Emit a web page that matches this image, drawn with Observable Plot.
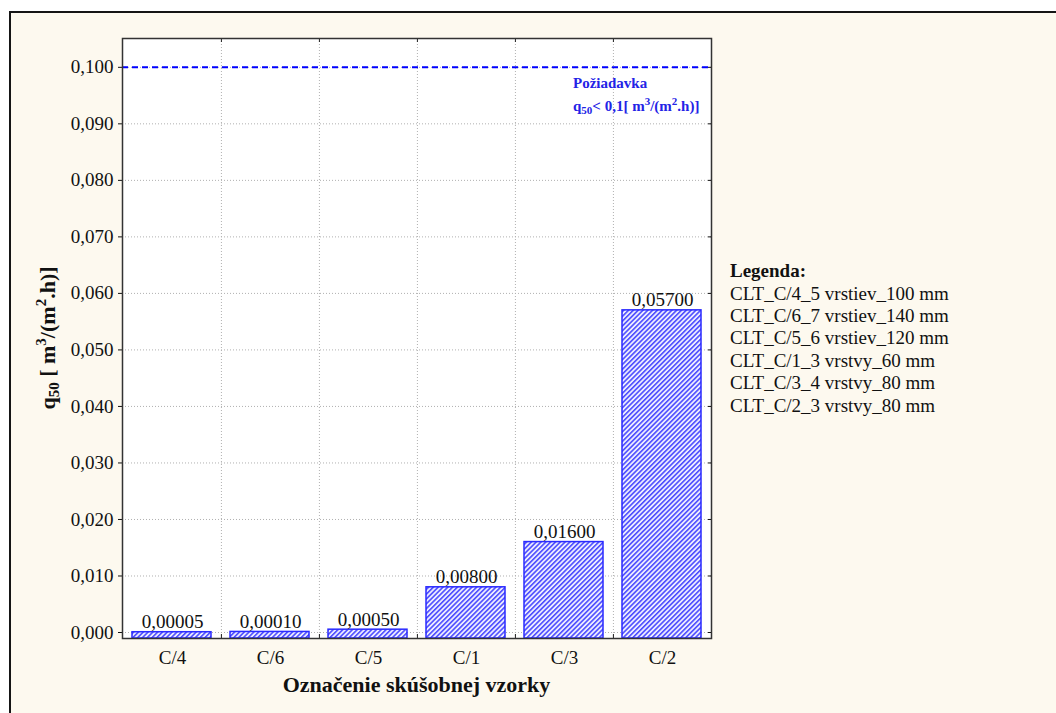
<!DOCTYPE html>
<html><head><meta charset="utf-8">
<script src="https://cdn.jsdelivr.net/npm/d3@7"></script>
<script src="https://cdn.jsdelivr.net/npm/@observablehq/plot@0.6"></script>
<style>
body{margin:0;background:#fff;overflow:hidden;font-family:"Liberation Serif",serif}
#frame{position:absolute;left:9px;top:11px;width:1100px;height:800px;border:2.5px solid #151515;background:#fdf9ef}
#chart{position:absolute;left:0;top:0}
</style></head><body><div id="frame"></div><div id="chart"></div>
<script>
const categories = ["C/4","C/6","C/5","C/1","C/3","C/2"];
const values = [0.00005,0.0001,0.0005,0.008,0.016,0.057];
const yTicks = [0,0.01,0.02,0.03,0.04,0.05,0.06,0.07,0.08,0.09,0.1];
const requirement = 0.1;
const legendTitle = "Legenda:";
const legendLabels = ["CLT_C/4_5 vrstiev_100 mm","CLT_C/6_7 vrstiev_140 mm","CLT_C/5_6 vrstiev_120 mm","CLT_C/1_3 vrstvy_60 mm","CLT_C/3_4 vrstvy_80 mm","CLT_C/2_3 vrstvy_80 mm"];
const xLabel = "Označenie skúšobnej vzorky";
const annTitle = "Požiadavka";

const data = categories.map((c,i)=>({cat:c, value:values[i]}));
const yMin = -0.00106, yMax = 0.1051;
const W=1056,H=713, ml=122, mt=38, mr=345, mb=75;
const bw = (W-ml-mr)/categories.length;
const pxY = (yMax-yMin)/(H-mt-mb);
const comma = f => v => f(v).replace(".", ",");
const fmt3 = comma(d3.format(".3f"));
const fmt5 = comma(d3.format(".5f"));
const grid = {stroke:"#b0b0b0", strokeOpacity:1, strokeDasharray:"1,2"};

const plot = Plot.plot({
  width:W, height:H, marginLeft:ml, marginTop:mt, marginRight:mr, marginBottom:mb,
  style:{background:"transparent", fontFamily:"Liberation Serif", fontSize:"19px", color:"#111"},
  x:{type:"band", domain:categories, padding:0, label:null},
  y:{domain:[yMin,yMax], label:null},
  marks:[
    Plot.frame({fill:"white", stroke:null}),
    Plot.gridY(yTicks, grid),
    Plot.ruleX(categories.slice(1), {dx:-bw/2, ...grid}),
    Plot.ruleY([requirement], {stroke:"#0000ff", strokeWidth:2, strokeDasharray:"6,4"}),
    Plot.barY(data, {x:"cat", y1:yMin, y2:"value", fill:"url(#hatch)", stroke:"#2a2aff", strokeWidth:1.5, insetLeft:9, insetRight:10}),
    Plot.text(data, {x:"cat", y:"value", text:d=>fmt5(d.value), lineAnchor:"bottom", dy:-4, fontSize:19, fill:"#111"}),
    Plot.ruleX(categories.slice(1), {dx:-bw/2, y1:yMax, y2:yMax-4*pxY, stroke:"#222"}),
    Plot.ruleX(categories.slice(1), {dx:-bw/2, y1:yMin, y2:yMin+4*pxY, stroke:"#222"}),
    Plot.axisY(yTicks, {anchor:"left", tickFormat:fmt3, tickSize:4, tickPadding:5, fontSize:19, label:null}),
    Plot.axisY(yTicks, {anchor:"right", tickFormat:()=>"", tickSize:-4, label:null}),
    Plot.axisX({tickSize:0, tickPadding:12, fontSize:19, label:null}),
    Plot.frame({stroke:"#333", strokeWidth:1.5})
  ]
});
document.getElementById("chart").appendChild(plot);

const svg = d3.select(plot);
const defs = svg.insert("defs", ":first-child");
const pat = defs.append("pattern").attr("id","hatch").attr("patternUnits","userSpaceOnUse")
  .attr("width",3.4).attr("height",3.4).attr("patternTransform","rotate(45)");
pat.append("rect").attr("width",3.4).attr("height",3.4).attr("fill","#ececff");
pat.append("line").attr("x1",0.8).attr("y1",0).attr("x2",0.8).attr("y2",3.4).attr("stroke","#3535ff").attr("stroke-width",1.4);

const ys = plot.scale("y"), xr = plot.scale("x").range;
const yReq = ys.apply(requirement);
// annotation
const ann = svg.append("g").attr("fill","#2323e6").attr("font-weight","bold").attr("font-size",15)
  .attr("font-family","Liberation Serif").attr("text-anchor","start");
ann.append("text").attr("x",xr[1]-138).attr("y",yReq+21).text(annTitle);
const a2 = ann.append("text").attr("x",xr[1]-138).attr("y",yReq+44);
a2.append("tspan").text("q");
a2.append("tspan").attr("font-size",11).attr("dy",3).text("50");
a2.append("tspan").attr("dy",-3).text("< 0,1[ m");
a2.append("tspan").attr("font-size",11).attr("dy",-6).text("3");
a2.append("tspan").attr("dy",6).text("/(m");
a2.append("tspan").attr("font-size",11).attr("dy",-6).text("2");
a2.append("tspan").attr("dy",6).text(".h)]");

// y label
const yl = svg.append("text").attr("transform",`translate(55,${(mt+H-mb)/2}) rotate(-90)`)
  .attr("text-anchor","middle").attr("font-weight","bold").attr("font-size",22).attr("font-family","Liberation Serif").attr("fill","#111");
yl.append("tspan").text("q");
yl.append("tspan").attr("font-size",15).attr("dy",4).text("50");
yl.append("tspan").attr("dy",-4).text(" [ m");
yl.append("tspan").attr("font-size",15).attr("dy",-9).text("3");
yl.append("tspan").attr("dy",9).text("/(m");
yl.append("tspan").attr("font-size",15).attr("dy",-9).text("2");
yl.append("tspan").attr("dy",9).text(".h)]");

// x label
svg.append("text").attr("x",(xr[0]+xr[1])/2).attr("y",692).attr("text-anchor","middle")
  .attr("font-weight","bold").attr("font-size",22).attr("font-family","Liberation Serif").attr("fill","#111").text(xLabel);

// legend
const lg = svg.append("g").attr("font-family","Liberation Serif").attr("font-size",19).attr("fill","#111").attr("text-anchor","start");
lg.append("text").attr("x",xr[1]+19).attr("y",277).attr("font-weight","bold").text(legendTitle);
legendLabels.forEach((t,i)=>lg.append("text").attr("x",xr[1]+19).attr("y",299.5+i*22.4).text(t));
</script></body></html>
